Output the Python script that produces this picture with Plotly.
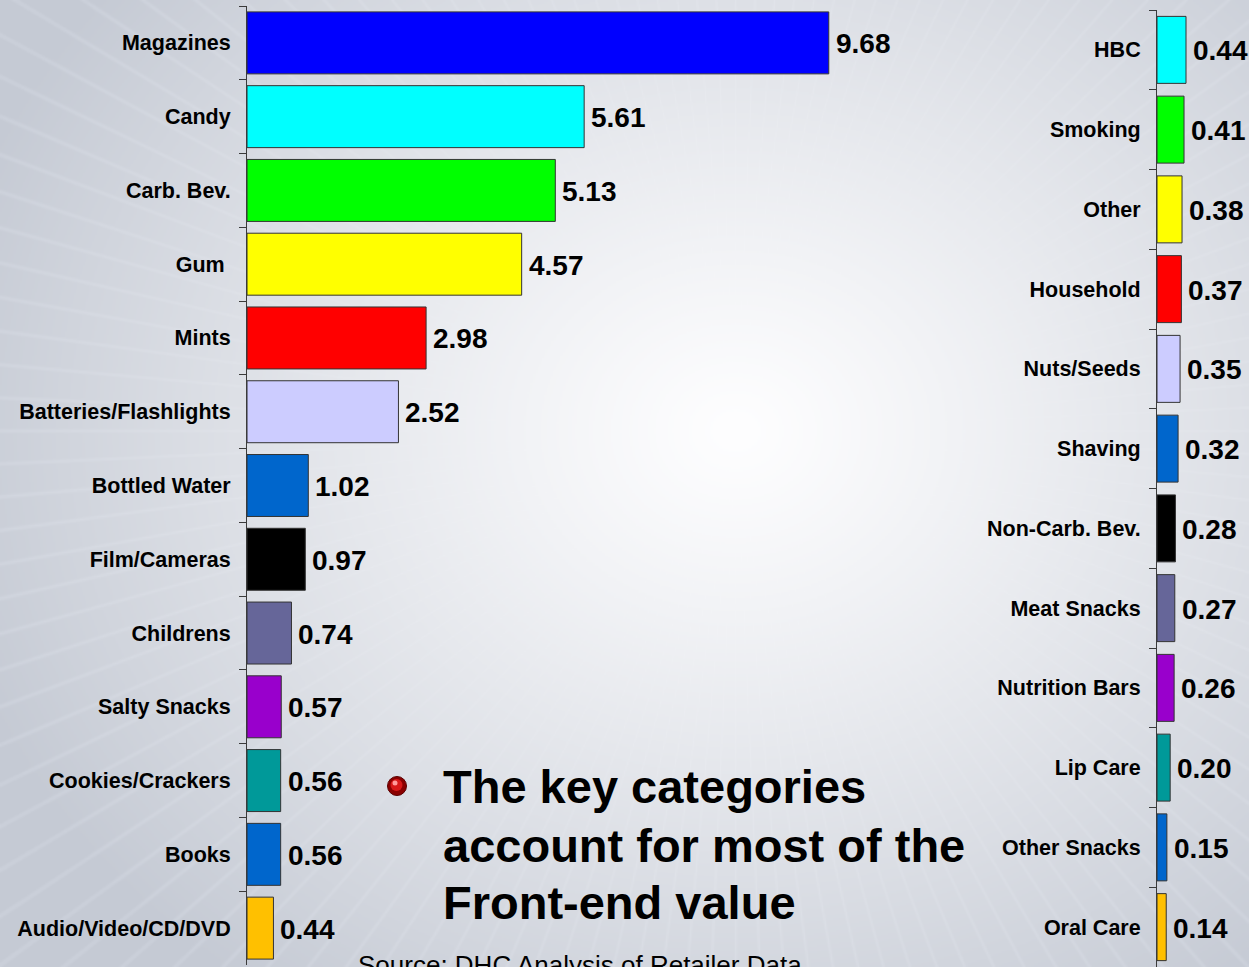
import base64
import struct
import zlib

import numpy as np
import plotly.graph_objects as go

W, H = 1249, 967

# ---- data -----------------------------------------------------------------
left_categories = [
    "Magazines", "Candy", "Carb. Bev.", "Gum\u00a0", "Mints",
    "Batteries/Flashlights", "Bottled Water", "Film/Cameras", "Childrens",
    "Salty Snacks", "Cookies/Crackers", "Books", "Audio/Video/CD/DVD",
]
left_values = [9.68, 5.61, 5.13, 4.57, 2.98, 2.52, 1.02, 0.97, 0.74, 0.57, 0.56, 0.56, 0.44]
left_colors = [
    "#0000FF", "#00FFFF", "#00FF00", "#FFFF00", "#FF0000", "#CCCCFF",
    "#0066CC", "#000000", "#666699", "#9900CC", "#009999", "#0066CC", "#FFC000",
]

right_categories = [
    "HBC", "Smoking", "Other", "Household", "Nuts/Seeds", "Shaving",
    "Non-Carb. Bev.", "Meat Snacks", "Nutrition Bars", "Lip Care",
    "Other Snacks", "Oral Care",
]
right_values = [0.44, 0.41, 0.38, 0.37, 0.35, 0.32, 0.28, 0.27, 0.26, 0.20, 0.15, 0.14]
right_colors = [
    "#00FFFF", "#00FF00", "#FFFF00", "#FF0000", "#CCCCFF", "#0066CC",
    "#000000", "#666699", "#9900CC", "#009999", "#0066CC", "#FFC000",
]

headline_lines = ["The key categories", "account for most of the", "Front-end value"]
source_note = "Source: DHC Analysis of Retailer Data"

FONT = "Liberation Sans, Arial, sans-serif"
AXIS_GREY = "#3a3a3a"


# ---- slide background: soft radial glow with faint rays --------------------
def make_background(w, h):
    ys, xs = np.mgrid[0:h, 0:w].astype(float)
    sx, sy = W / w, H / h
    X, Y = xs * sx, ys * sy
    cx, cy = 735.0, 430.0
    r = np.sqrt(((X - cx) / 820.0) ** 2 + ((Y - cy) / 700.0) ** 2)
    t = np.clip(r, 0, 1) ** 1.15
    edge = np.array([197, 202, 212], dtype=float)
    centre = np.array([254, 254, 255], dtype=float)
    img = centre[None, None, :] * (1 - t[..., None]) + edge[None, None, :] * t[..., None]
    theta = np.arctan2(Y - cy, X - cx)
    rays = (0.5 + 0.5 * np.cos(theta * 140.0)) ** 24
    img += (rays * 7.0 * t ** 1.5)[..., None]
    return np.clip(img, 0, 255).astype(np.uint8)


def png_data_uri(arr):
    h, w, _ = arr.shape
    raw = b"".join(b"\x00" + arr[i].tobytes() for i in range(h))

    def chunk(tag, data):
        c = struct.pack(">I", len(data)) + tag + data
        return c + struct.pack(">I", zlib.crc32(tag + data) & 0xFFFFFFFF)

    png = b"\x89PNG\r\n\x1a\n"
    png += chunk(b"IHDR", struct.pack(">IIBBBBB", w, h, 8, 2, 0, 0, 0))
    png += chunk(b"IDAT", zlib.compress(raw, 9))
    png += chunk(b"IEND", b"")
    return "data:image/png;base64," + base64.b64encode(png).decode()


bg_uri = png_data_uri(make_background(833, 645))


def px_x(p):
    return p / W


def px_y(p):
    return 1 - p / H


# ---- bars -----------------------------------------------------------------
fig = go.Figure()
fig.add_trace(go.Bar(
    x=left_values, y=left_categories, orientation="h",
    marker=dict(color=left_colors, line=dict(color="#333333", width=1)),
    xaxis="x", yaxis="y", hoverinfo="x+y",
))
fig.add_trace(go.Bar(
    x=right_values, y=right_categories, orientation="h",
    marker=dict(color=right_colors, line=dict(color="#333333", width=1)),
    xaxis="x2", yaxis="y2", hoverinfo="x+y",
))

value_font = dict(family=FONT, size=28, color="black", weight="bold")
annotations = []
for c, v in zip(left_categories, left_values):
    annotations.append(dict(
        x=v, y=c, xref="x", yref="y", text=f"{v:.2f}", showarrow=False,
        xanchor="left", yanchor="middle", xshift=5, yshift=-1, font=value_font,
    ))
for c, v in zip(right_categories, right_values):
    annotations.append(dict(
        x=v, y=c, xref="x2", yref="y2", text=f"{v:.2f}", showarrow=False,
        xanchor="left", yanchor="middle", xshift=5, yshift=-1, font=value_font,
    ))

# headline next to the bullet
for line, yc in zip(headline_lines, [786, 845, 902]):
    annotations.append(dict(
        x=px_x(441), y=px_y(yc), xref="paper", yref="paper", text=line,
        showarrow=False, xanchor="left", yanchor="middle",
        font=dict(family=FONT, size=47, color="black", weight="bold"),
    ))

annotations.append(dict(
    x=px_x(356), y=px_y(965), xref="paper", yref="paper", text=source_note,
    showarrow=False, xanchor="left", yanchor="middle",
    font=dict(family=FONT, size=26, color="black"),
))

# red bullet
bx, by, br = 397, 786, 9.5
shapes = [
    dict(type="circle", xref="paper", yref="paper",
         x0=px_x(bx - br), x1=px_x(bx + br), y0=px_y(by + br), y1=px_y(by - br),
         fillcolor="#8b0000", line=dict(color="#5a0000", width=1)),
    dict(type="circle", xref="paper", yref="paper",
         x0=px_x(bx - 6.5), x1=px_x(bx + 5.5), y0=px_y(by + 5), y1=px_y(by - 7),
         fillcolor="#d81818", line=dict(width=0)),
    dict(type="circle", xref="paper", yref="paper",
         x0=px_x(bx - 4.5), x1=px_x(bx + 0.5), y0=px_y(by - 0.5), y1=px_y(by - 5.5),
         fillcolor="#ff9a9a", line=dict(width=0)),
]

tick_font = dict(family=FONT, size=21.5, color="black", weight="bold")
common_y = dict(
    type="category", tickson="boundaries", ticks="outside", ticklen=7,
    tickcolor=AXIS_GREY, tickwidth=1, showline=True, linecolor=AXIS_GREY,
    linewidth=1, showgrid=False, zeroline=False, tickfont=tick_font,
    ticklabelstandoff=11, fixedrange=True,
)

fig.update_layout(
    width=W, height=H,
    margin=dict(l=0, r=0, t=0, b=0),
    paper_bgcolor="#d6dae1",
    plot_bgcolor="rgba(0,0,0,0)",
    showlegend=False,
    bargap=0.16,
    images=[dict(source=bg_uri, xref="paper", yref="paper", x=0, y=1,
                 sizex=1, sizey=1, sizing="stretch", xanchor="left",
                 yanchor="top", layer="below")],
    xaxis=dict(domain=[px_x(247), px_x(900)], range=[0, 653 / 60.1],
               visible=False, fixedrange=True),
    yaxis=dict(domain=[px_y(965), px_y(6)], anchor="x",
               range=[len(left_categories) - 0.5, -0.5], **common_y),
    xaxis2=dict(domain=[px_x(1157), 1.0], range=[0, 92 / 65.9],
                visible=False, fixedrange=True, anchor="y2"),
    yaxis2=dict(domain=[max(px_y(967), 0), px_y(10)], anchor="x2",
                range=[len(right_categories) - 0.5, -0.5], **common_y),
    annotations=annotations,
    shapes=shapes,
)

fig.write_html("out.html")
